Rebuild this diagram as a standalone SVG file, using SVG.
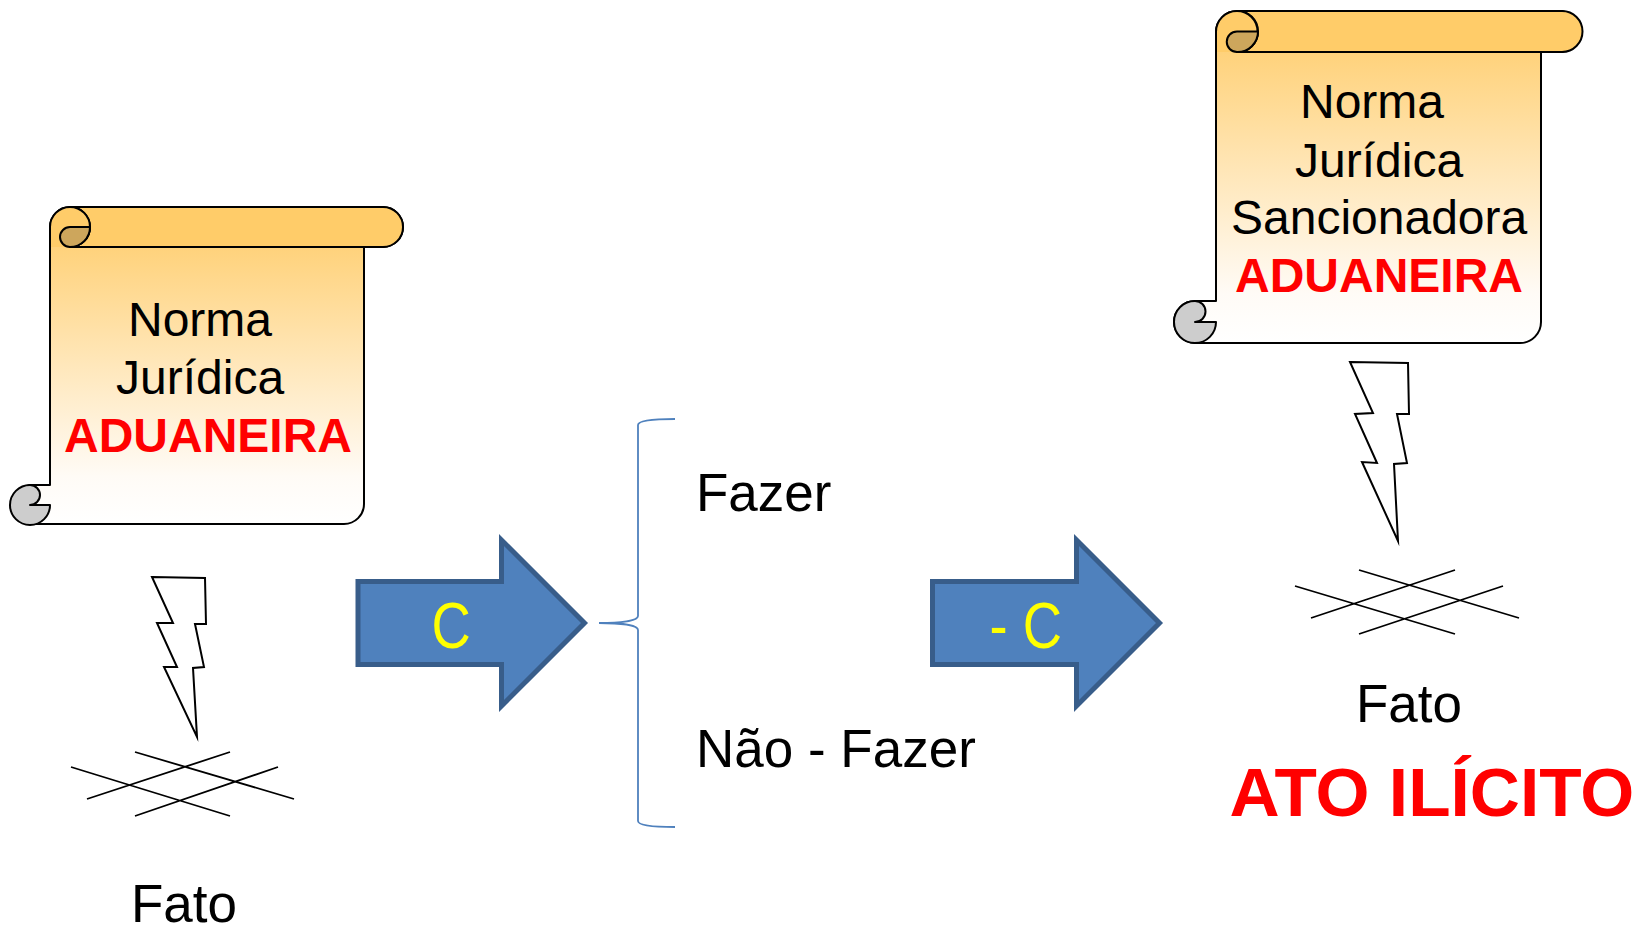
<svg xmlns="http://www.w3.org/2000/svg" width="1635" height="927" viewBox="0 0 1635 927">
<style>
text{font-family:"Liberation Sans",Arial,sans-serif}
.t{font-size:48px;fill:#000}
.b{font-size:48px;font-weight:700;fill:#f00}
.f{font-size:53px;fill:#000}
.y{font-size:64px;fill:#ff0}
.o{stroke:#000;stroke-width:2;stroke-linejoin:round}
.l{stroke:#000;stroke-width:1.8;fill:none}
.bar{fill:#ffcc69}
.dk{fill:#cda65c}
.gr{fill:#cdcdcd}
.ar{fill:#4f81bd;stroke:#385d8a;stroke-width:5;stroke-miterlimit:10}
.bo{fill:#fff;stroke:#000;stroke-width:2;stroke-miterlimit:10}
.br{fill:none;stroke:#4f81bd;stroke-width:1.8}
</style>
<defs>
<linearGradient id="g" x1="0" y1="0" x2="0" y2="1"><stop offset="0" stop-color="#ffcb66"/><stop offset=".85" stop-color="#fffbf6"/><stop offset="1" stop-color="#fff"/></linearGradient>
</defs>
<g id="scroll-left">
<path class="o" fill="url(#g)" d="M50 227A20 20 0 0 1 70 207H383A20 20 0 0 1 383 247H364V504A20 20 0 0 1 344 524H30A20 20 0 0 1 30 485H50Z"/>
<path class="o bar" d="M70 207H383A20 20 0 0 1 383 247H70A20 20 0 0 0 90 227A20 20 0 0 0 70 207Z"/>
<path fill="#ffcc69" d="M70 207A20 20 0 0 0 50 227V247H70A20 20 0 0 0 90 227A20 20 0 0 0 70 207Z"/>
<path class="o" fill="none" d="M50 260V227A20 20 0 0 1 70 207A20 20 0 0 1 70 247"/>
<path class="o dk" d="M90 227H70A10 10 0 0 0 70 247A20 20 0 0 0 90 227Z"/>
<path class="o gr" d="M30 485A20 20 0 1 0 50 505H30A10 10 0 0 0 30 485Z"/>
<text class="t" x="128" y="336">Norma</text>
<text class="t" x="116" y="394">Jurídica</text>
<text class="b" x="64" y="452">ADUANEIRA</text>
</g>
<g id="scroll-right">
<path class="o" fill="url(#g)" d="M1216 32A21 21 0 0 1 1237 11H1562A21 21 0 0 1 1562 52H1541V322A21 21 0 0 1 1520 343H1195A21 21 0 0 1 1195 301H1216Z"/>
<path class="o bar" d="M1237 11H1562A20.500 20.500 0 0 1 1562 52H1237A20.500 20.500 0 0 0 1258 31.500A20.500 20.500 0 0 0 1237 11Z"/>
<path fill="#ffcc69" d="M1237 11A21 21 0 0 0 1216 32V52H1237A20.500 20.500 0 0 0 1258 31.500A20.500 20.500 0 0 0 1237 11Z"/>
<path class="o" fill="none" d="M1216 65V32A21 21 0 0 1 1237 11A20.500 20.500 0 0 1 1237 52"/>
<path class="o dk" d="M1258 31.500H1237A10.250 10.250 0 0 0 1237 52A20.500 20.500 0 0 0 1258 31.500Z"/>
<path class="o gr" d="M1195 301A21 21 0 1 0 1216 322H1195A10.500 10.500 0 0 0 1195 301Z"/>
<text class="t" x="1300" y="118">Norma</text>
<text class="t" x="1295" y="177">Jurídica</text>
<text class="t" x="1231" y="234">Sancionadora</text>
<text class="b" x="1235" y="292">ADUANEIRA</text>
</g>
<g id="fato-left">
<polygon class="bo" points="152,577 205,578 206,624 195,624 204,667 193,668 197,737 164,667 177,667 157,623 173,623"/>
<path class="l" d="M71 767L230 816M87 799L230 752M135 752L294 799M135 816L278 767"/>
<text class="f" x="131" y="922">Fato</text>
</g>
<g id="fato-right">
<polygon class="bo" points="1350,362 1408,363 1409,414 1397,414 1407,463 1394,464 1398,541 1362,462 1377,463 1355,414 1373,413"/>
<path class="l" d="M1295 586L1455 634M1311 618L1455 570M1359 570L1519 618M1359 634L1503 586"/>
<text class="f" x="1356" y="722">Fato</text>
<text x="1229.500" y="816" style="font-size:69.400px;font-weight:700;fill:#f00">ATO ILÍCITO</text>
</g>
<g id="connectors">
<g id="arrow-c">
<path class="ar" d="M358 581.500H501.500V540L584.500 623L501.500 706V664.500H358Z"/>
<text class="y" transform="translate(431.500 647.500) scale(.85 1)">C</text>
</g>
<g id="arrow-nc">
<path class="ar" d="M932.500 581.500H1076.500V540L1159.500 623L1076.500 706V664.500H932.500Z"/>
<text class="y" transform="translate(989.500 647.500) scale(.85 1)">- C</text>
</g>
<path id="brace" class="br" d="M675 419C655 419 638 420 638 425V616C638 621 620 623 599 623C620 623 638 625 638 630V821C638 826 655 827 675 827"/>
</g>
<g id="options">
<text class="f" x="696" y="511">Fazer</text>
<text class="f" x="696" y="767">Não - Fazer</text>
</g>
</svg>
